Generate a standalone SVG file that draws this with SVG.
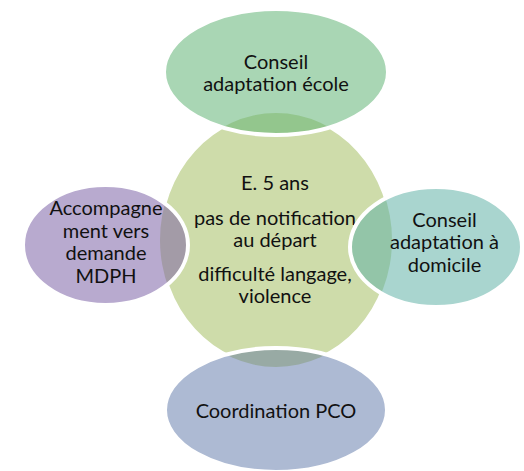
<svg xmlns="http://www.w3.org/2000/svg" xmlns:xlink="http://www.w3.org/1999/xlink" width="524" height="471" viewBox="0 0 524 471">
<style>
text{font-family:Lato,"Liberation Sans",sans-serif;font-size:20px;fill:#111;text-anchor:middle}
.ring{fill:none;stroke:#fff;stroke-width:4}
</style>
<defs>
<ellipse id="core" cx="276" cy="240" rx="116" ry="127"/>
<clipPath id="cTop"><ellipse cx="276" cy="72" rx="112" ry="63"/></clipPath>
<clipPath id="cRight"><ellipse cx="436" cy="247" rx="86" ry="60"/></clipPath>
<clipPath id="cBottom"><ellipse cx="276" cy="410" rx="111" ry="62"/></clipPath>
<clipPath id="cLeft"><ellipse cx="105.5" cy="245" rx="82.5" ry="60"/></clipPath>
</defs>
<rect width="524" height="471" fill="#fff"/>
<g id="connectors"/>
<g id="node-center">
<use xlink:href="#core" fill="#cedcaa" stroke="#fff" stroke-width="3"/>
<text x="275" y="190">E. 5 ans</text>
<text x="275" y="225">pas de notification</text>
<text x="275" y="247">au départ</text>
<text x="275" y="281">difficulté langage,</text>
<text x="275" y="303">violence</text>
</g>
<g id="node-top">
<ellipse cx="276" cy="72" rx="112" ry="63" fill="#a9d6b4"/>
<use xlink:href="#core" fill="#93c68d" clip-path="url(#cTop)"/>
<ellipse class="ring" cx="276" cy="72" rx="112" ry="63"/>
<text x="276" y="69">Conseil</text>
<text x="276" y="91">adaptation école</text>
</g>
<g id="node-right">
<ellipse cx="436" cy="247" rx="86" ry="60" fill="#a9d5cf"/>
<use xlink:href="#core" fill="#93c5a8" clip-path="url(#cRight)"/>
<ellipse class="ring" cx="436" cy="247" rx="86" ry="60"/>
<text x="444.5" y="227">Conseil</text>
<text x="444.5" y="249">adaptation à</text>
<text x="444.5" y="272">domicile</text>
</g>
<g id="node-bottom">
<ellipse cx="276" cy="410" rx="111" ry="62" fill="#adbad3"/>
<use xlink:href="#core" fill="#98aaa4" clip-path="url(#cBottom)"/>
<ellipse class="ring" cx="276" cy="410" rx="111" ry="62"/>
<text x="276" y="418">Coordination PCO</text>
</g>
<g id="node-left">
<ellipse cx="105.5" cy="245" rx="82.5" ry="60" fill="#b8aacf"/>
<use xlink:href="#core" fill="#a39ba7" clip-path="url(#cLeft)"/>
<ellipse class="ring" cx="105.5" cy="245" rx="82.5" ry="60"/>
<text x="106" y="215">Accompagne</text>
<text x="106" y="238">ment vers</text>
<text x="106" y="260">demande</text>
<text x="106" y="283">MDPH</text>
</g>
</svg>
